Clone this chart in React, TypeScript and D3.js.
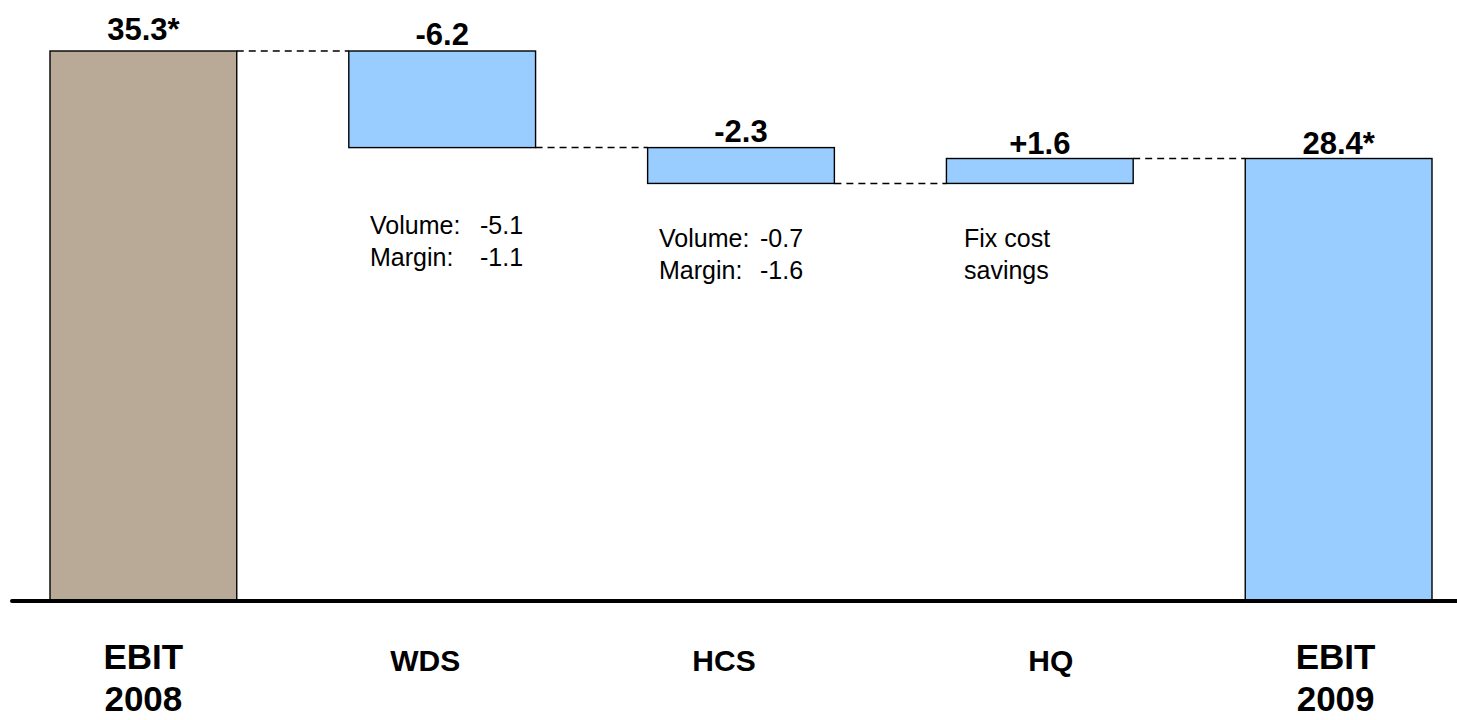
import React from "react";
import * as d3 from "d3";

// ---- data ----
const categories = ["EBIT 2008", "WDS", "HCS", "HQ", "EBIT 2009"];
const categoryLines = [["EBIT", "2008"], ["WDS"], ["HCS"], ["HQ"], ["EBIT", "2009"]];
const kinds = ["total", "delta", "delta", "delta", "total"];
const values = [35.3, -6.2, -2.3, 1.6, 28.4];
const valueLabels = ["35.3*", "-6.2", "-2.3", "+1.6", "28.4*"];
const noteLabels: string[][] = [[], ["Volume:", "Margin:"], ["Volume:", "Margin:"], ["Fix cost", "savings"], []];
const noteValues: string[][] = [[], ["-5.1", "-1.1"], ["-0.7", "-1.6"], ["", ""], []];

// ---- layout ----
const W = 1457;
const H = 720;
const BASE_Y = 601;
const TOP_Y = 51;
const catDx = [0, -17, -17, 11, -3];
const labelGap = [11, 6, 6, 5, 5];
const noteX = [0, 370, 659, 964, 0];
const noteValDx = [0, 110, 101, 0, 0];
const noteY = [0, 234, 247, 247, 0];
const FONT = "'Liberation Sans', Arial, Helvetica, sans-serif";

export default function App() {
  const x = d3.scaleBand<string>().domain(categories).range([50, 1432]).paddingInner(0.375).paddingOuter(0);
  const y = d3.scaleLinear().domain([0, values[0]]).range([BASE_Y, TOP_Y]);

  // compute waterfall segments
  let running = 0;
  const segs = values.map((v, i) => {
    let lo: number, hi: number, end: number;
    if (kinds[i] === "total") {
      lo = 0; hi = v; end = v;
    } else {
      const start = running;
      end = running + v;
      lo = Math.min(start, end); hi = Math.max(start, end);
    }
    running = end;
    return { cat: categories[i], lo, hi, end, i };
  });

  const bw = x.bandwidth();

  return (
    <svg width={W} height={H} style={{ position: "absolute", left: 0, top: 0, background: "#fff" }} fontFamily={FONT}>
      <rect x={0} y={0} width={W} height={H} fill="#fff" />
      {/* connectors */}
      {segs.slice(0, -1).map((s, i) => {
        const next = segs[i + 1];
        return (
          <line key={"c" + i} x1={(x(s.cat) as number) + bw} x2={x(next.cat) as number}
            y1={y(s.end)} y2={y(s.end)} stroke="#000" strokeWidth={1.5} strokeDasharray="7,5" />
        );
      })}
      {/* bars */}
      {segs.map((s) => (
        <rect key={"b" + s.i} x={x(s.cat)} y={y(s.hi)} width={bw} height={y(s.lo) - y(s.hi)}
          fill={s.i === 0 ? "#B8AA96" : "#99CCFF"} stroke="#000" strokeWidth={1.4} />
      ))}
      {/* baseline */}
      <line x1={12} x2={1457} y1={BASE_Y} y2={BASE_Y} stroke="#000" strokeWidth={4} strokeLinecap="round" />
      {/* value labels */}
      {segs.map((s) => (
        <text key={"v" + s.i} x={(x(s.cat) as number) + bw / 2} y={y(s.hi) - labelGap[s.i]} textAnchor="middle"
          fontSize={31} fontWeight="bold" fill="#000">{valueLabels[s.i]}</text>
      ))}
      {/* notes */}
      {noteLabels.map((lines, i) => lines.map((t, j) => (
        <g key={"n" + i + j}>
          <text x={noteX[i]} y={noteY[i] + j * 32} fontSize={25} fill="#000">{t}</text>
          {noteValues[i][j] ? (
            <text x={noteX[i] + noteValDx[i]} y={noteY[i] + j * 32} fontSize={25} fill="#000">{noteValues[i][j]}</text>
          ) : null}
        </g>
      )))}
      {/* category labels */}
      {categoryLines.map((lines, i) => lines.map((t, j) => (
        <text key={"k" + i + j} x={(x(categories[i]) as number) + bw / 2 + catDx[i]} y={(kinds[i] === "total" ? 669 : 671) + j * 42}
          textAnchor="middle" fontSize={kinds[i] === "total" ? 35 : 30} fontWeight="bold" fill="#000">{t}</text>
      )))}
    </svg>
  );
}
